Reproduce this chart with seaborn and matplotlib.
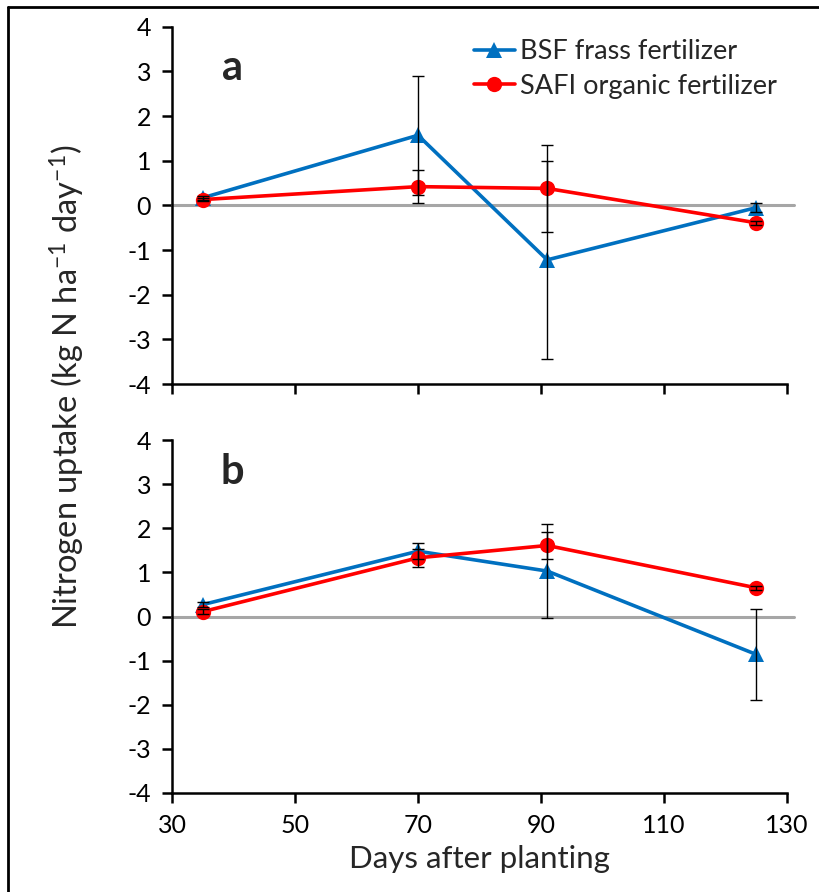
import matplotlib
matplotlib.use("Agg")
import matplotlib.pyplot as plt
from matplotlib.lines import Line2D
import numpy as np
import pandas as pd
import seaborn as sns

# Sampling days (days after planting)
days = [35, 70, 91, 125]

# Panel a: mean nitrogen uptake rate and error
a_bsf = [0.17, 1.57, -1.22, -0.05]
a_bsf_err = [0.05, 1.33, 2.22, 0.10]
a_safi = [0.13, 0.42, 0.38, -0.39]
a_safi_err = [0.03, 0.37, 0.97, 0.05]

# Panel b
b_bsf = [0.27, 1.48, 1.03, -0.86]
b_bsf_err = [0.05, 0.18, 1.07, 1.03]
b_safi = [0.11, 1.33, 1.61, 0.65]
b_safi_err = [0.05, 0.21, 0.30, 0.05]

series_names = ["BSF frass fertilizer", "SAFI organic fertilizer"]
panel_labels = ["a", "b"]
x_ticks = [30, 50, 70, 90, 110, 130]
y_ticks = [-4, -3, -2, -1, 0, 1, 2, 3, 4]

sns.set_style("ticks")
plt.rcParams["font.family"] = ["Lato", "DejaVu Sans"]
plt.rcParams["axes.unicode_minus"] = False
plt.rcParams["mathtext.fontset"] = "custom"
plt.rcParams["mathtext.rm"] = "Lato"
plt.rcParams["mathtext.it"] = "Lato"

BLUE = "#0070C0"
RED = "#FF0000"

fig = plt.figure(figsize=(8.19, 8.92), dpi=100)
ax_a = fig.add_axes([0.210, 0.5695, 0.751, 0.4005])
ax_b = fig.add_axes([0.210, 0.111, 0.751, 0.3957])

panels = [
    (ax_a, a_bsf, a_bsf_err, a_safi, a_safi_err, 0.885),
    (ax_b, b_bsf, b_bsf_err, b_safi, b_safi_err, 0.91),
]

for i, (ax, bsf, bsf_e, safi, safi_e, label_y) in enumerate(panels):
    df = pd.DataFrame({
        "day": days * 2,
        "uptake": bsf + safi,
        "err": bsf_e + safi_e,
        "treatment": [series_names[0]] * 4 + [series_names[1]] * 4,
    })
    ax.axhline(0, xmin=0, xmax=1.012, color="#A6A6A6", lw=2.2, zorder=1, clip_on=False)
    sns.lineplot(data=df, x="day", y="uptake", hue="treatment", style="treatment",
                 palette={series_names[0]: BLUE, series_names[1]: RED},
                 markers={series_names[0]: "^", series_names[1]: "o"},
                 dashes=False, lw=2.6, markersize=11, markeredgewidth=0,
                 ax=ax, zorder=3, legend=False)
    for _, row in df.iterrows():
        ax.errorbar(row["day"], row["uptake"], yerr=row["err"], fmt="none",
                    ecolor="black", elinewidth=1.0, capsize=4, capthick=1.0, zorder=4)

    ax.set_xlim(30, 130)
    ax.set_ylim(-4, 4)
    ax.set_xticks(x_ticks)
    ax.set_yticks(y_ticks)
    ax.set_yticklabels([str(v) for v in y_ticks])
    sns.despine(ax=ax)
    for side in ("left", "bottom"):
        ax.spines[side].set_linewidth(1.8)
        ax.spines[side].set_color("black")
    ax.tick_params(axis="both", direction="out", length=7, width=1.8,
                   labelsize=18, colors="black", pad=8)
    ax.set_xlabel("")
    ax.set_ylabel("")
    ax.text(0.098, label_y, panel_labels[i], transform=ax.transAxes,
            fontsize=30, fontweight="bold", ha="center", va="center")

ax_a.tick_params(axis="x", labelbottom=False)

handles = [
    Line2D([], [], color=BLUE, lw=2.6, marker="^", markersize=11, markeredgewidth=0),
    Line2D([], [], color=RED, lw=2.6, marker="o", markersize=11, markeredgewidth=0),
]
ax_a.legend(handles, series_names, loc="upper right", bbox_to_anchor=(1.01, 1.01),
            frameon=False, fontsize=19.5, handlelength=1.5, handletextpad=0.2,
            labelspacing=0.35, borderaxespad=0.2)

ax_b.set_xlabel("Days after planting", fontsize=22.5, labelpad=6)
fig.text(0.082, 0.566, r"Nitrogen uptake (kg N ha$^{-1}$ day$^{-1}$)",
         rotation=90, fontsize=23.5, ha="center", va="center")

# Frame lines along the top and left of the figure
fig.add_artist(Line2D([8 / 819, 8 / 819], [0, 1 - 7 / 892], transform=fig.transFigure,
                      color="black", lw=2))
fig.add_artist(Line2D([8 / 819, 1], [1 - 7 / 892, 1 - 7 / 892], transform=fig.transFigure,
                      color="black", lw=2))

fig.savefig("out.png", dpi=100)
